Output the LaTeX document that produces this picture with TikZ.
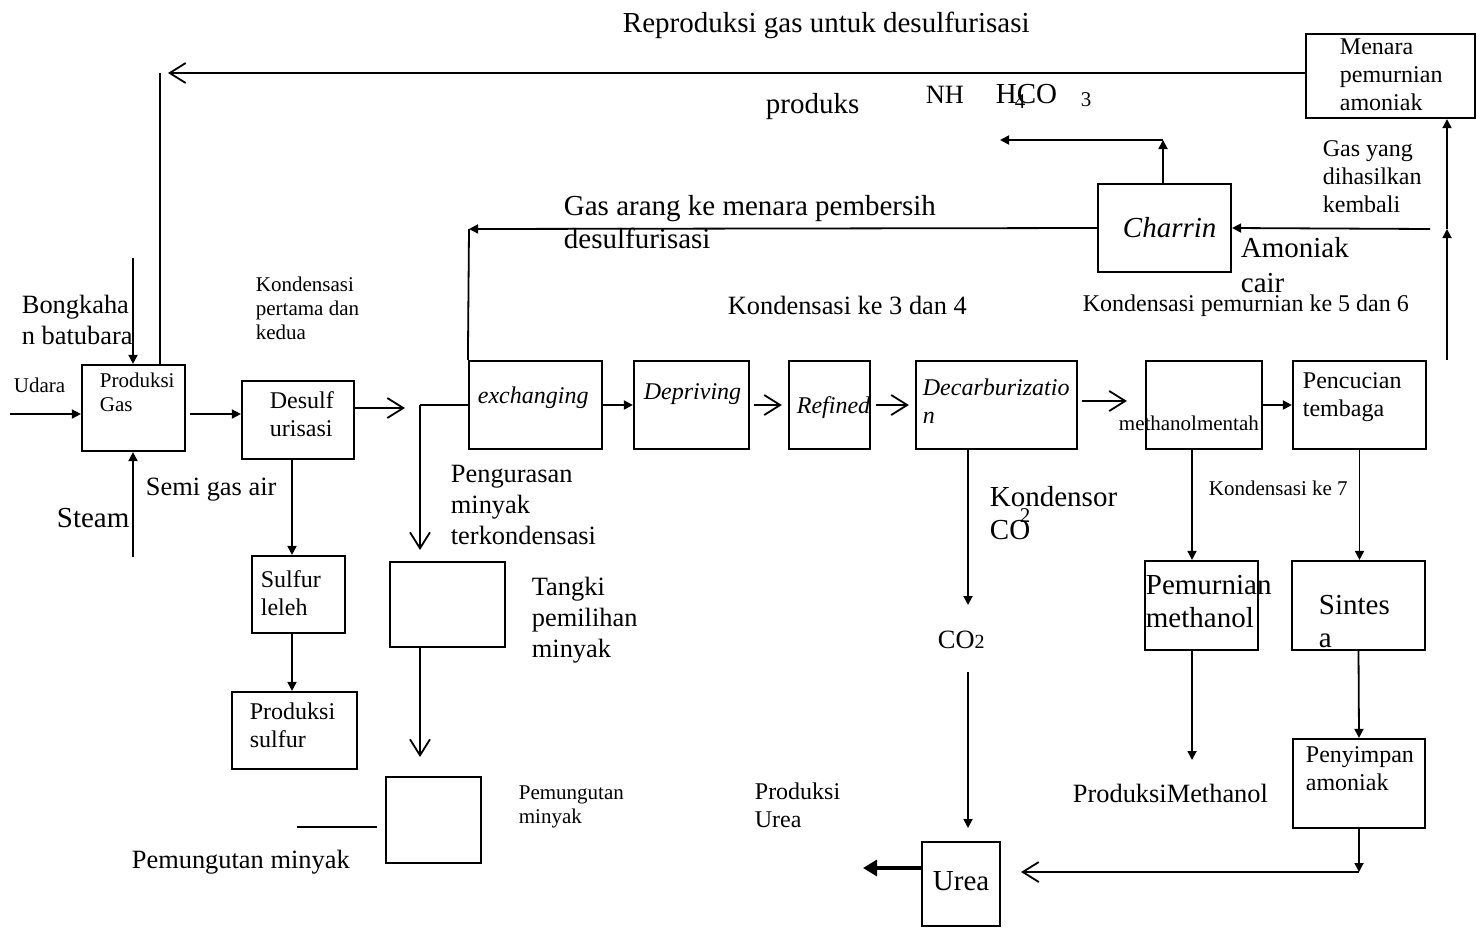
\documentclass[tikz,border=0pt]{standalone}
\usepackage{fontspec}
\setmainfont{Liberation Serif}
\usetikzlibrary{arrows.meta,fit}

\begin{document}
\begin{tikzpicture}[x=0.5pt, y=-0.5pt, line width=0.9pt,
    box/.style={draw, line width=1.1pt, inner sep=0pt},
    lab/.style={anchor=base west, inner sep=0pt, align=left},
    fa/.style={lab, font=\fontsize{10.5}{12}\selectfont},
    fb/.style={lab, font=\fontsize{12}{14}\selectfont},
    fc/.style={lab, font=\fontsize{13.2}{15.5}\selectfont},
    fd/.style={lab, font=\fontsize{14.5}{16.5}\selectfont},
    fbi/.style={lab, font=\fontsize{12}{14}\selectfont\itshape},
    fil/.style={-{Triangle[length=4.5pt,width=4.5pt]}},
    opn/.style={-{Straight Barb[length=8pt,width=10pt]}},
    big/.style={line width=1.6pt, -{Triangle[length=7pt,width=8pt]}}]
  \useasboundingbox (0,0) rectangle (1477,927);

  % kotak proses
  \node[box, fit={(82,365) (185,451)}] (prodgas) {};
  \node[box, fit={(242,381) (354,459)}] (desulf) {};
  \node[box, fit={(252,556) (345,633)}] (sulfur) {};
  \node[box, fit={(232,692) (357,769)}] (prodsulf) {};
  \node[box, fit={(390,562) (505,647)}] (tangki) {};
  \node[box, fit={(386,777) (481,863)}] (pungut) {};
  \node[box, fit={(469,361) (602,449)}] (exch) {};
  \node[box, fit={(634,361) (749,449)}] (depriv) {};
  \node[box, fit={(789,361) (870,449)}] (refined) {};
  \node[box, fit={(916,361) (1077,449)}] (decarb) {};
  \node[box, fit={(1146,361) (1262,449)}] (metmentah) {};
  \node[box, fit={(1293,361) (1426,449)}] (cuci) {};
  \node[box, fit={(1098,184) (1231,272)}] (charrin) {};
  \node[box, fit={(1306,34) (1475,118)}] (menara) {};
  \node[box, fit={(1145,561) (1258,650)}] (murnimet) {};
  \node[box, fit={(1292,561) (1425,650)}] (sintesa) {};
  \node[box, fit={(1293,739) (1425,828)}] (simpan) {};
  \node[box, fit={(922,842) (1000,926)}] (urea) {};

  % teks (titik = garis dasar baris terakhir)
  \node[fd] (judul) at (622,32) {Reproduksi gas untuk desulfurisasi};
  \node[fd] (produks) at (765,113) {produks};
  \node[fc] (nh) at (925,103) {NH};
  \node[fd] (hco) at (995,103) {HCO};
  \node[fa] (sub4) at (1014,108) {4};
  \node[fa] (sub3) at (1080,106) {3};
  \node[fd] (gasarang) at (563,248) {Gas arang ke menara pembersih\\desulfurisasi};
  \node[fc] (kond34) at (727,314) {Kondensasi ke 3 dan 4};
  \node[fd, font=\fontsize{14.5}{16.5}\selectfont\itshape] (tcharrin) at (1122,237) {Charrin};
  \node[fd] (amoniak) at (1240,292) {Amoniak\\[1pt]cair};
  \node[fb] (kond56) at (1082,311) {Kondensasi pemurnian ke 5 dan 6};
  \node[fb] (gasyang) at (1322,212) {Gas yang\\dihasilkan\\kembali};
  \node[fb] (tmenara) at (1339,110) {Menara\\pemurnian\\amoniak};
  \node[fa] (kond12) at (255,339) {Kondensasi\\pertama dan\\kedua};
  \node[fc] (bongkah) at (21,344) {Bongkaha\\n batubara};
  \node[fa] (udara) at (13,392) {Udara};
  \node[fa] (tprodgas) at (99,411) {Produksi\\Gas};
  \node[fb] (tdesulf) at (269,436) {Desulf\\urisasi};
  \node[fc] (semigas) at (145,495) {Semi gas air};
  \node[fd] (steam) at (56,527) {Steam};
  \node[fb] (tsulfur) at (260,615) {Sulfur\\leleh};
  \node[fb] (tprodsulf) at (249,747) {Produksi\\sulfur};
  \node[fc] (kuras) at (450,544) {Pengurasan\\minyak\\terkondensasi};
  \node[fc] (ttangki) at (531,657) {Tangki\\pemilihan\\minyak};
  \node[fa] (tpungut) at (518,823) {Pemungutan\\minyak};
  \node[fc] (pungutkiri) at (131,868) {Pemungutan minyak};
  \node[fbi] (texch) at (477,403) {exchanging};
  \node[fbi] (tdepriv) at (643,399) {Depriving};
  \node[fbi] (trefined) at (796,413) {Refined};
  \node[fbi] (tdecarb) at (922,423) {Decarburizatio\\n};
  \node[fa] (tmetmentah) at (1118,430) {methanolmentah};
  \node[fb] (tcuci) at (1302,416) {Pencucian\\tembaga};
  \node[fd] (kondensor) at (989,539) {Kondensor\\CO};
  \node[fa] (sup2) at (1019,522) {2};
  \node[fa] (kond7) at (1208,495) {Kondensasi ke 7};
  \node[fd] (tmurnimet) at (1145,627) {Pemurnian\\methanol};
  \node[fd] (tsintesa) at (1318,647) {Sintes\\a};
  \node[fc] (co2) at (937,648) {CO{\fontsize{10}{12}\selectfont 2}};
  \node[fb] (produrea) at (754,827) {Produksi\\Urea};
  \node[fc] (prodmet) at (1072,802) {ProduksiMethanol};
  \node[fb] (tsimpan) at (1305,790) {Penyimpan\\amoniak};
  \node[fd] (turea) at (932,890) {Urea};

  % titik bantu
  \coordinate (bk) at (133,258);
  \coordinate (ud) at (10,414);
  \coordinate (st) at (133,557);
  \coordinate (ret) at (168,73);
  \coordinate (retup) at (160,73);
  \coordinate (pg1) at (190,414);
  \coordinate (ds1) at (405,408);
  \coordinate (jn) at (420,405);
  \coordinate (jn2) at (420,550);
  \coordinate (tk1) at (420,757);
  \coordinate (pl1) at (297,827);
  \coordinate (pl2) at (377,827);
  \coordinate (ga) at (469,229);
  \coordinate (dc1) at (968,605);
  \coordinate (ca) at (968,672);
  \coordinate (cb) at (968,828);
  \coordinate (mm1) at (1192,760);
  \coordinate (sb) at (1359,872);
  \coordinate (uo) at (863,868);
  \coordinate (rb) at (1447,360);
  \coordinate (rm) at (1447,229);
  \coordinate (rh) at (1430,229);
  \coordinate (cu) at (1163,140);
  \coordinate (cl) at (1000,140);

  % aliran
  \draw[fil] (bk) -- (prodgas.north -| bk);
  \draw[fil] (ud) -- (ud -| prodgas.west);
  \draw[fil] (st) -- (st |- prodgas.south);
  \draw[opn] (menara.west |- ret) -- (ret);
  \draw (prodgas.north -| retup) -- (retup);
  \draw[fil] (pg1) -- (desulf.west |- pg1);
  \draw[opn] (desulf.east |- ds1) -- (ds1);
  \draw (exch.west |- jn) -- (jn);
  \draw[opn] (jn) -- (jn2);
  \draw[opn] (tangki.south -| tk1) -- (tk1);
  \draw (pl1) -- (pl2);
  \draw[fil] (desulf.south -| 292,0) -- (sulfur.north -| 292,0);
  \draw[fil] (sulfur.south -| 292,0) -- (prodsulf.north -| 292,0);
  \draw[fil] (charrin.west) -- (ga);
  \draw (ga) -- (exch.north west);
  \draw[fil] (exch.east) -- (depriv.west);
  \draw[opn] ([xshift=2pt]depriv.east) -- ([xshift=-3pt]refined.west);
  \draw[opn] ([xshift=2.5pt]refined.east) -- ([xshift=-3pt]decarb.west);
  \draw[opn] ([xshift=2pt, yshift=2pt]decarb.east) -- ([xshift=-9pt, yshift=2pt]metmentah.west);
  \draw[fil] (metmentah.east) -- (cuci.west);
  \draw[fil] (decarb.south -| dc1) -- (dc1);
  \draw[fil] (ca) -- (cb);
  \draw[fil] (metmentah.south -| mm1) -- (murnimet.north -| mm1);
  \draw[fil] (murnimet.south -| mm1) -- (mm1);
  \draw[fil] (cuci.south) -- (sintesa.north -| cuci.south);
  \draw[fil] (sintesa.south) -- (simpan.north);
  \draw[fil] (simpan.south) -- (sb);
  \draw[opn] (sb) -- ([xshift=10pt]urea.east |- sb);
  \draw[big] (urea.west |- uo) -- (uo);
  \draw[fil] (rb) -- (rm);
  \draw[fil] (rm) -- (menara.south -| rm);
  \draw[fil] (rh) -- (charrin.east);
  \draw[fil] (charrin.north -| cu) -- (cu);
  \draw[fil] (cu) -- (cl);
\end{tikzpicture}
\end{document}
